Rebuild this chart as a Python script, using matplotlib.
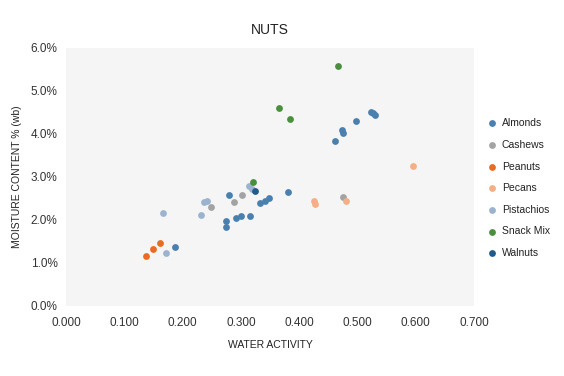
import matplotlib
matplotlib.use("Agg")
import matplotlib.pyplot as plt
from matplotlib.ticker import FuncFormatter

plt.rcParams['font.family'] = ['Liberation Sans', 'DejaVu Sans']

series_names = ["Almonds", "Cashews", "Peanuts", "Pecans", "Pistachios", "Snack Mix", "Walnuts"]
colors = ["#4a7fae", "#a3a3a3", "#ea6c22", "#f5ae85", "#9bb3cf", "#4a8f3d", "#215b8c"]

almonds_aw = [0.523, 0.527, 0.530, 0.497, 0.473, 0.476, 0.462, 0.381, 0.280, 0.332, 0.341, 0.349,
              0.274, 0.275, 0.291, 0.301, 0.315, 0.187]
almonds_mc = [4.51, 4.48, 4.44, 4.29, 4.08, 4.01, 3.83, 2.65, 2.58, 2.38, 2.44, 2.50,
              1.97, 1.83, 2.04, 2.08, 2.08, 1.38]
cashews_aw = [0.302, 0.289, 0.248, 0.475]
cashews_mc = [2.58, 2.42, 2.29, 2.52]
peanuts_aw = [0.162, 0.149, 0.138]
peanuts_mc = [1.47, 1.32, 1.16]
pecans_aw = [0.595, 0.425, 0.427, 0.481]
pecans_mc = [3.25, 2.43, 2.36, 2.44]
pistachios_aw = [0.3145, 0.3196, 0.236, 0.242, 0.232, 0.166, 0.171]
pistachios_mc = [2.78, 2.72, 2.42, 2.44, 2.11, 2.15, 1.23]
snack_aw = [0.467, 0.366, 0.384, 0.320]
snack_mc = [5.57, 4.59, 4.34, 2.88]
walnuts_aw = [0.325]
walnuts_mc = [2.67]

data = [(almonds_aw, almonds_mc), (cashews_aw, cashews_mc), (peanuts_aw, peanuts_mc),
        (pecans_aw, pecans_mc), (pistachios_aw, pistachios_mc), (snack_aw, snack_mc),
        (walnuts_aw, walnuts_mc)]

x_ticks = [0.0, 0.1, 0.2, 0.3, 0.4, 0.5, 0.6, 0.7]
y_ticks = [0, 1, 2, 3, 4, 5, 6]

fig = plt.figure(figsize=(5.64, 3.76), dpi=100)
ax = fig.add_axes([66/564, 1 - 306/376, 408/564, 258.5/376])
ax.set_facecolor("#f5f5f5")

for name, col, (xs, ys) in zip(series_names, colors, data):
    ax.scatter(xs, ys, s=24, color=col, label=name, linewidths=0, zorder=3)

ax.set_xlim(0, 0.7)
ax.set_ylim(0, 6)
ax.set_xticks(x_ticks)
ax.set_yticks(y_ticks)
ax.xaxis.set_major_formatter(FuncFormatter(lambda v, p: f"{v:.3f}"))
ax.yaxis.set_major_formatter(FuncFormatter(lambda v, p: f"{v:.1f}%"))
ax.tick_params(axis='both', length=0, labelsize=8.5, colors="#333333", pad=8)
ax.tick_params(axis='y', pad=6)
for s in ax.spines.values():
    s.set_visible(False)

ax.set_title("NUTS", fontsize=10, color="#222222", pad=10)
ax.set_xlabel("WATER ACTIVITY", fontsize=7.5, color="#222222", labelpad=8)
ax.set_ylabel("MOISTURE CONTENT % (wb)", fontsize=7.5, color="#222222", labelpad=6)

leg = fig.legend(loc="upper left", bbox_to_anchor=(482/564, 1 - 114/376), frameon=False,
                 fontsize=7.5, handletextpad=0.3, labelspacing=1.12, markerscale=1.0,
                 borderaxespad=0, handlelength=1.2)
for t in leg.get_texts():
    t.set_color("#222222")

fig.savefig("out.png", dpi=100, facecolor="white")
